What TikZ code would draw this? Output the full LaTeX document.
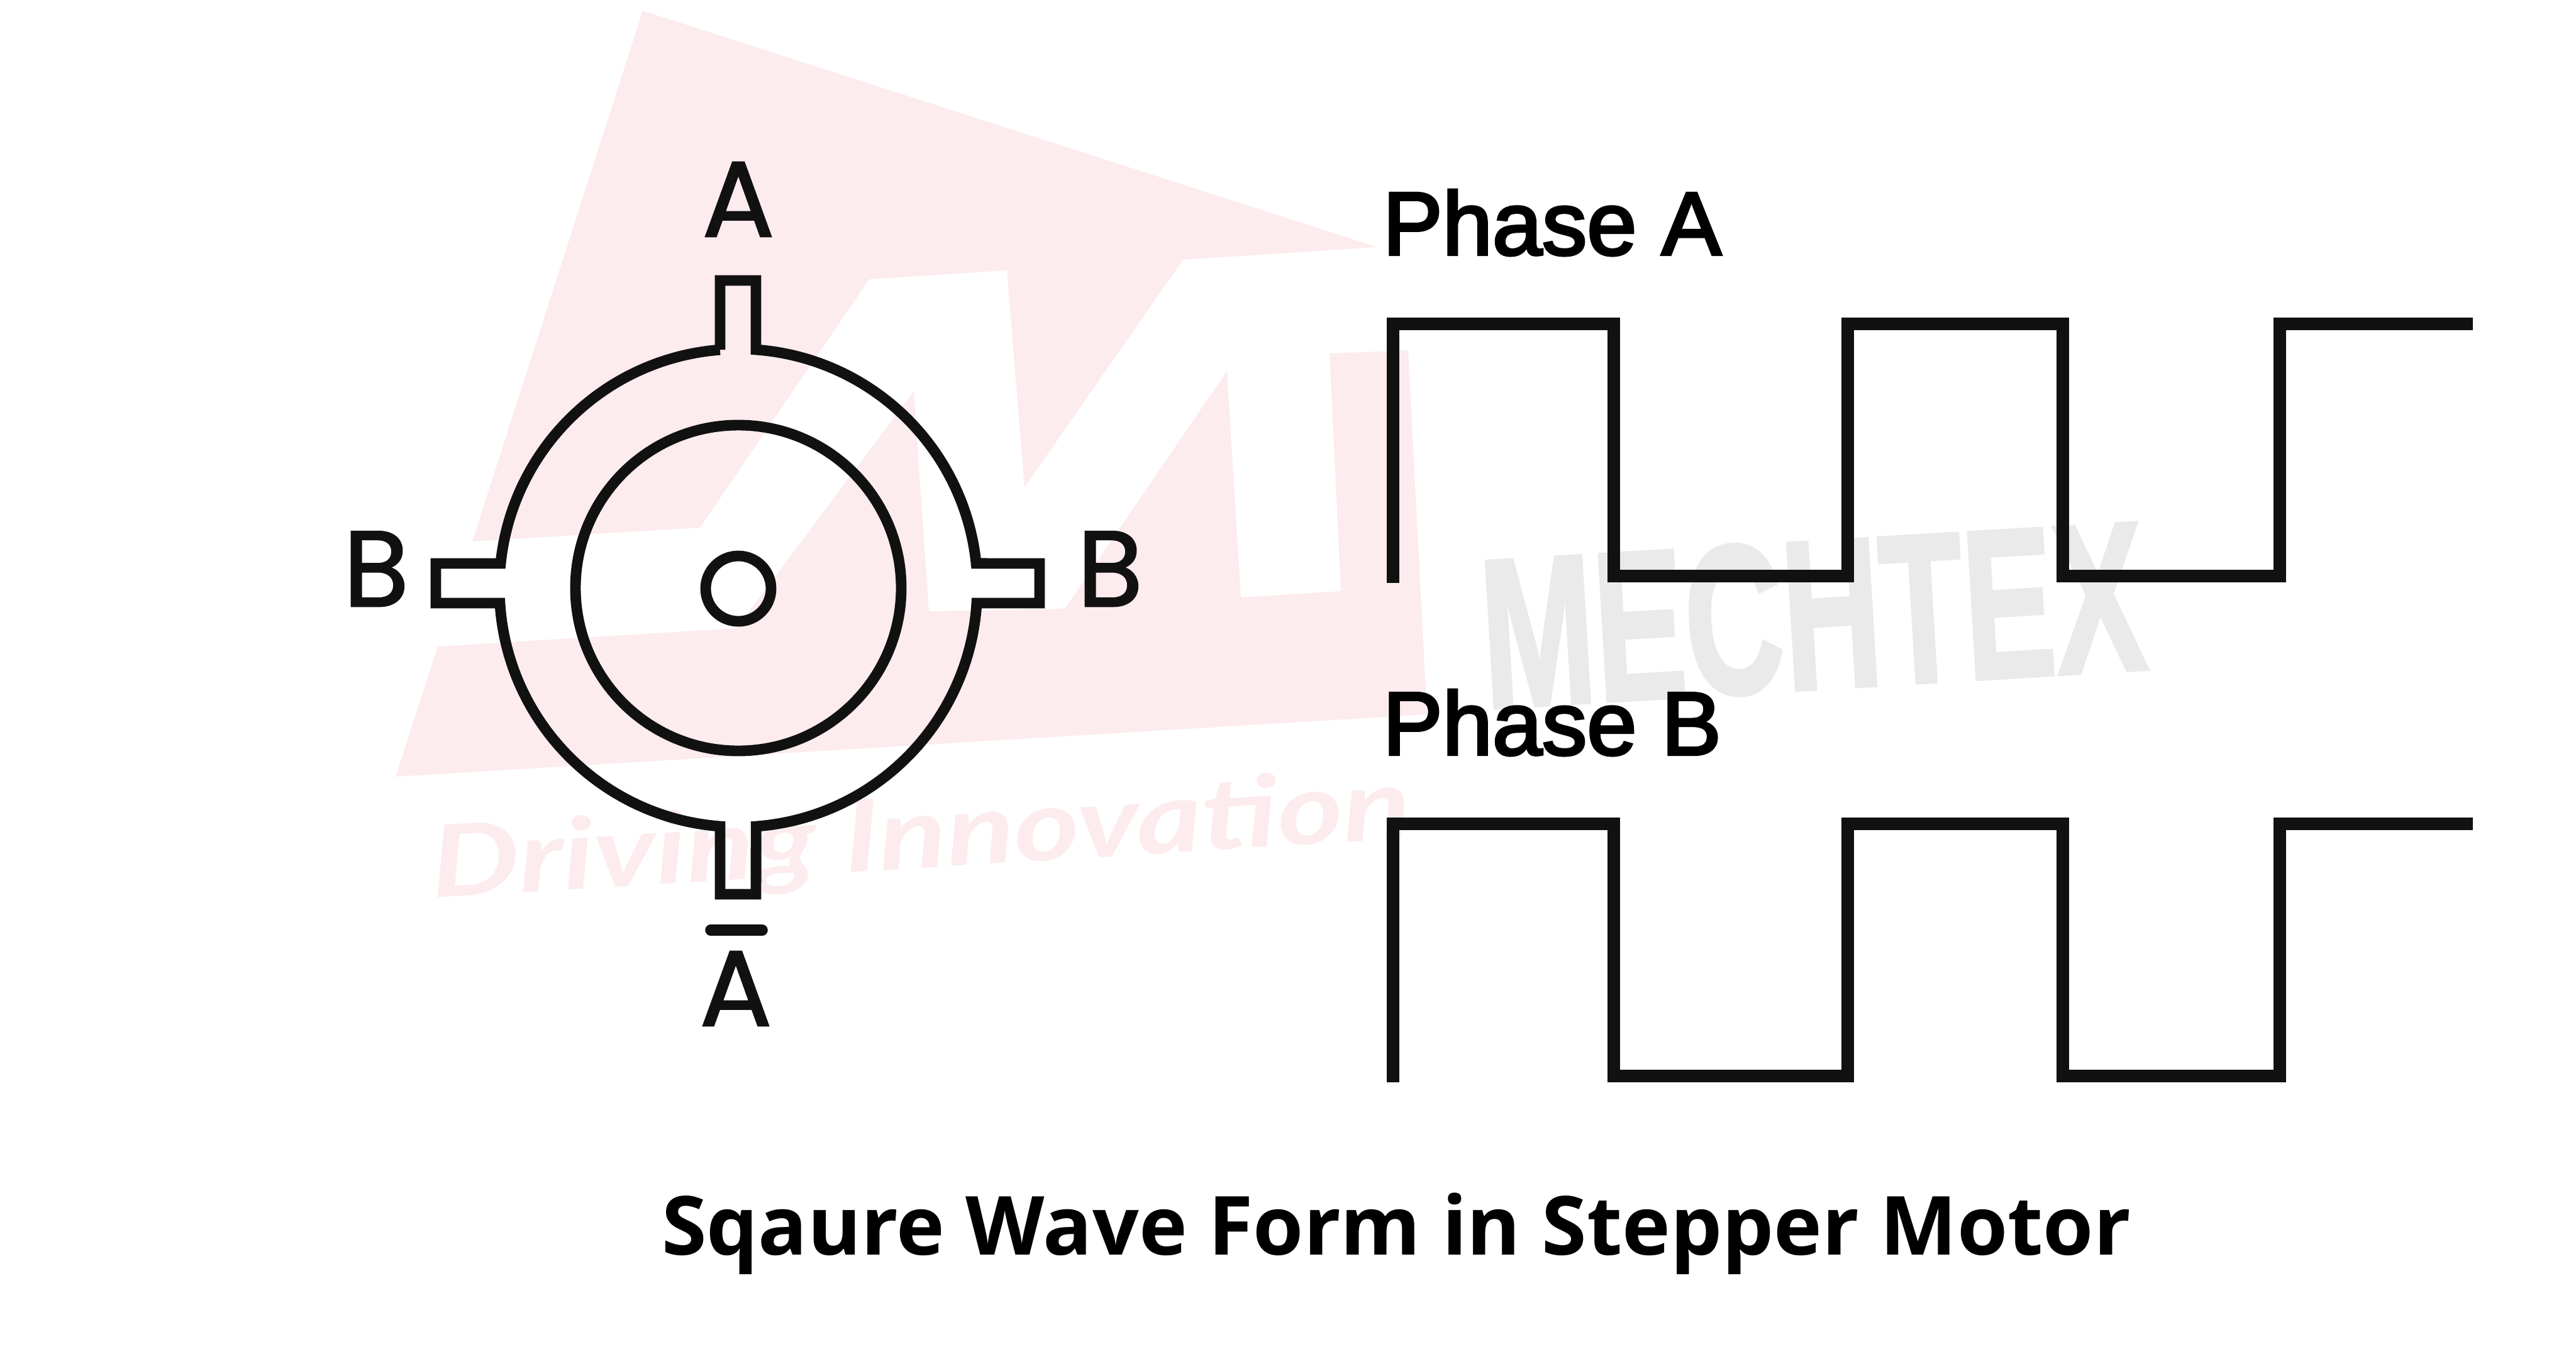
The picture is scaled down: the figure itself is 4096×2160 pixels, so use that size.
\documentclass[tikz,border=0pt]{standalone}
\usepackage{xcolor}
\usepackage{fontspec}
\usepackage{tikz}
\usetikzlibrary{positioning}
\newfontfamily\polefont[FakeBold=1.5]{Poppins}
\newfontfamily\phasefont[FakeBold=3]{Liberation Sans}
\newfontfamily\markfont[BoldFeatures={FakeBold=2}]{Liberation Sans}
\newfontfamily\captionfont{Open Sans}
\newfontfamily\brandfont{Lato}
\definecolor{wmpink}{HTML}{FCECEE}
\definecolor{wmgrey}{HTML}{EAEAEA}
\definecolor{inkline}{HTML}{111111}
\tikzset{
  poleline/.style={draw=inkline, line width=4.8pt},
  waveline/.style={draw=inkline, line width=5.6pt},
  polelabel/.style={inner sep=0pt, anchor=base, text=inkline, font=\polefont\fontsize{48.5}{55}\selectfont},
  phaselabel/.style={inner sep=0pt, anchor=base west, text=black, font=\phasefont\fontsize{40.5}{50}\selectfont},
}
\begin{document}
\begin{tikzpicture}[x=0.01cm,y=-0.01cm]
            \useasboundingbox (0,0) rectangle (4096,2160);
            % logo behind the drawing
            \fill[wmpink] (1022,17) -- (2190,393) -- (1881,413) -- (1629,775) -- (1601,430) -- (1382,444) -- (1113,839) -- (751,861) -- cycle;
            \fill[wmpink] (696,1028) -- (1171,999) -- (1453,622) -- (1477,972) -- (1693,968) -- (1951,590) -- (1973,950) -- (2132,940) -- (2114,562) -- (2239,557) -- (2269,1136) -- (629,1235) -- cycle;
            \node[inner sep=0pt, anchor=base west, text=wmgrey, rotate=3.4, xscale=.64, font=\markfont\bfseries\fontsize{96}{104}\selectfont] at (2362,1126) (brand) {MECHTEX};
            \node[inner sep=0pt, anchor=base west, text=wmpink, rotate=3.5, xscale=1.26, font=\brandfont\bfseries\itshape\fontsize{45}{50}\selectfont] at (688,1428) (slogan) {Driving Innovation};

            % motor
            \draw[poleline] (1145,556) -- (1145,446) -- (1202,446) -- (1202,556)
                arc[start angle=-85.8, end angle=-5.9, radius=380] -- (1653,896) -- (1653,959) -- (1553,959)
                arc[start angle=3.6, end angle=85.7, radius=380] -- (1202,1422) -- (1145,1422) -- (1145,1314)
                arc[start angle=94.4, end angle=176.4, radius=380] -- (693,959) -- (693,896) -- (796,896)
                arc[start angle=185.9, end angle=265.6, radius=380];
            \draw[poleline] (1174,935) circle[radius=259];
            \draw[poleline] (1174,936) circle[radius=52];
            \node[polelabel] at (1174,376) (poleA) {A};
            \node[polelabel] at (1170,1631) (poleAbar) {A};
            \node[polelabel] at (598,964) (poleBl) {B};
            \node[polelabel] at (1765,964) (poleBr) {B};
            \draw[inkline, line width=5pt, line cap=round] (1130,1479) -- (1212,1479);

            % waves
            \node[phaselabel] at (2198,405) (phaseA) {Phase A};
            \draw[waveline] (2215,927) -- (2215,515) -- (2566,515) -- (2566,916) -- (2938,916) -- (2938,515) -- (3280,515) -- (3280,916) -- (3625,916) -- (3625,515) -- (3932,515);
            \node[phaselabel] at (2198,1200) (phaseB) {Phase B};
            \draw[waveline] (2215,1721) -- (2215,1310) -- (2566,1310) -- (2566,1711) -- (2938,1711) -- (2938,1310) -- (3280,1310) -- (3280,1711) -- (3625,1711) -- (3625,1310) -- (3932,1310);

            \node[inner sep=0pt, anchor=base, text=black, font=\captionfont\bfseries\fontsize{36.9}{44}\selectfont] at (2220,1995) (caption) {Sqaure Wave Form in Stepper Motor};
        \end{tikzpicture}
\end{document}
